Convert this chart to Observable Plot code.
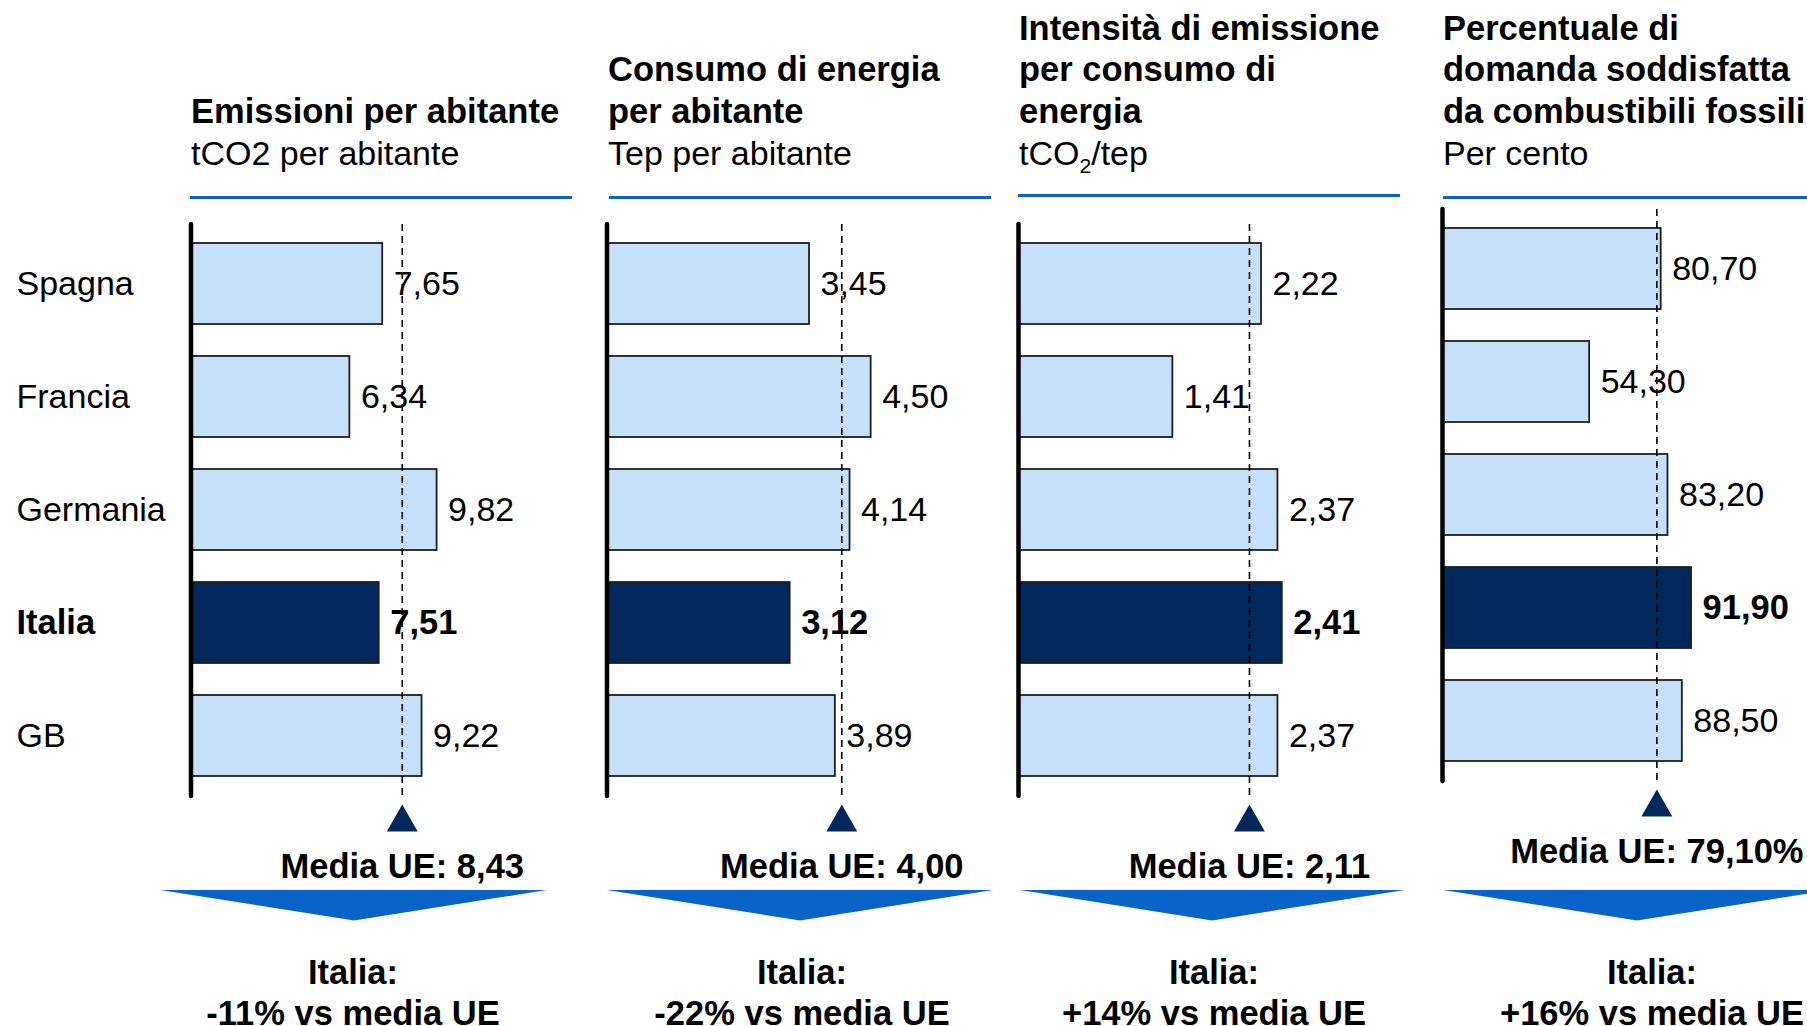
<!DOCTYPE html>
<html><head><meta charset="utf-8">
<script src="https://cdn.jsdelivr.net/npm/d3@7"></script>
<script src="https://cdn.jsdelivr.net/npm/@observablehq/plot@0.6"></script>
<style>
html,body{margin:0;padding:0;background:#fff;}
#root{position:relative;width:1807px;height:1026px;overflow:hidden;font-family:"Liberation Sans",Arial,sans-serif;color:#000;}
.line{position:absolute;white-space:nowrap;}
.rule{position:absolute;height:3px;background:#0a64c8;}
.panel{position:absolute;}
.panel svg{overflow:visible;}
#deco{position:absolute;left:0;top:0;}
</style></head><body><div id="root"></div>
<script>
// ---- data ----
const countries = ["Spagna", "Francia", "Germania", "Italia", "GB"];
const emissioni = [7.65, 6.34, 9.82, 7.51, 9.22];
const consumo = [3.45, 4.50, 4.14, 3.12, 3.89];
const intensita = [2.22, 1.41, 2.37, 2.41, 2.37];
const fossili = [80.70, 54.30, 83.20, 91.90, 88.50];
const mediaUE = [8.43, 4.00, 2.11, 79.10];
const mediaSuffix = ["", "", "", "%"];
const titles = [
  ["Emissioni per abitante"],
  ["Consumo di energia", "per abitante"],
  ["Intensità di emissione", "per consumo di", "energia"],
  ["Percentuale di", "domanda soddisfatta", "da combustibili fossili"]
];
const units = ["tCO2 per abitante", "Tep per abitante", "tCO<span style=\"font-size:0.62em;position:relative;top:0.35em\">2</span>/tep", "Per cento"];
const series = [emissioni, consumo, intensita, fossili];
const focus = "Italia";

// ---- styling / layout ----
const light = "#c6e0f9", dark = "#00285a", edge = "#1e1e1e", accent = "#0a64c8";
const font = '"Liberation Sans", Arial, sans-serif';
const BOLD = 34.5, REG = 34;
const layout = [
  {L: 0,    W: 600, T: 200, x0: 190.5, k: 25.06, dmax: 10,  titleX: 191,  ruleX: 190,  ruleW: 382, ruleY: 197.7, chev: [160, 547, 354], footX: 353},
  {L: 560,  W: 440, T: 200, x0: 606.5, k: 58.7,  dmax: 5,   titleX: 608,  ruleX: 609,  ruleW: 382, ruleY: 197.7, chev: [607, 993, 800], footX: 802},
  {L: 980,  W: 440, T: 200, x0: 1018,  k: 109.46,dmax: 3,   titleX: 1019, ruleX: 1018, ruleW: 382, ruleY: 195,   chev: [1020, 1405, 1212], footX: 1214},
  {L: 1400, W: 407, T: 185, x0: 1442,  k: 2.71,  dmax: 100, titleX: 1443, ruleX: 1443, ruleW: 380, ruleY: 197.7, chev: [1443, 1830, 1637], footX: 1652}
];
const fmt = v => v.toFixed(2).replace(".", ",");

const root = document.getElementById("root");

// place one text line by its baseline
function addLine(html, x, baseline, size, bold, center) {
  const d = document.createElement("div");
  d.className = "line";
  d.style.fontSize = size + "px";
  d.style.lineHeight = size + "px";
  d.style.fontWeight = bold ? "bold" : "normal";
  d.style.top = (baseline - 0.8465 * size) + "px";
  if (center) { d.style.left = (x - 300) + "px"; d.style.width = "600px"; d.style.textAlign = "center"; }
  else d.style.left = x + "px";
  d.innerHTML = html;
  root.appendChild(d);
}

// decoration layer (chevrons)
const deco = d3.select(root).append("svg").attr("id", "deco").attr("width", 1807).attr("height", 1026);

const titleBaselines = [40, 81.7, 123.3];
layout.forEach((c, i) => {
  // titles
  const lines = titles[i];
  lines.forEach((l, j) => addLine(l, c.titleX, titleBaselines[3 - lines.length + j], BOLD, true && true, false));
  addLine(units[i], c.titleX, 165, REG, false, false);
  // blue rule
  const r = document.createElement("div");
  r.className = "rule";
  r.style.left = c.ruleX + "px";
  r.style.width = c.ruleW + "px";
  r.style.top = (c.ruleY - 1.5) + "px";
  root.appendChild(r);

  // plot
  const data = countries.map((country, j) => ({country, value: series[i][j]}));
  const others = data.filter(d => d.country !== focus);
  const ital = data.filter(d => d.country === focus);
  const H = 690, mT = 24, mB = 94;
  const x0 = c.x0 - c.L;
  const marks = [
    Plot.barX(others, {x: "value", y: "country", fill: light, stroke: edge, strokeWidth: 1.8}),
    Plot.barX(ital, {x: "value", y: "country", fill: dark, stroke: edge, strokeWidth: 1.8}),
    Plot.ruleX([mediaUE[i]], {stroke: "#000", strokeWidth: 1.6, strokeDasharray: "7,5"}),
    Plot.ruleX([0], {stroke: "#000", strokeWidth: 4.5, strokeLinecap: "round"}),
    Plot.text(others, {x: "value", y: "country", text: d => fmt(d.value), textAnchor: "start", dx: 11, fontSize: REG, fill: "#000"}),
    Plot.text(ital, {x: "value", y: "country", text: d => fmt(d.value), textAnchor: "start", dx: 11, fontSize: BOLD, fontWeight: "bold", fill: "#000"}),
    Plot.dot([mediaUE[i]], {x: d => d, frameAnchor: "bottom", dy: 26, symbol: "triangle", r: 11.5, fill: dark, stroke: "none"}),
    Plot.text([mediaUE[i]], {x: d => d, frameAnchor: "bottom", lineAnchor: "middle", dy: 70, text: d => "Media UE: " + fmt(d) + mediaSuffix[i], fontWeight: "bold", fontSize: BOLD, textAnchor: "middle", fill: "#000"})
  ];
  if (i === 0) {
    marks.push(Plot.text(others, {y: "country", text: "country", frameAnchor: "left", dx: 16, textAnchor: "start", fontSize: REG, fill: "#000"}));
    marks.push(Plot.text(ital, {y: "country", text: "country", frameAnchor: "left", dx: 16, textAnchor: "start", fontSize: BOLD, fontWeight: "bold", fill: "#000"}));
  }
  const svg = Plot.plot({
    width: c.W, height: H,
    marginLeft: 0, marginRight: 0, marginTop: mT, marginBottom: mB,
    x: {domain: [0, c.dmax], range: [x0, x0 + c.k * c.dmax], axis: null},
    y: {domain: countries, range: [25.3, 594.4], paddingInner: 0.284, paddingOuter: 0.142, axis: null},
    style: {fontFamily: font, background: "transparent", overflow: "visible"},
    marks
  });
  const p = document.createElement("div");
  p.className = "panel";
  p.style.left = c.L + "px";
  p.style.top = c.T + "px";
  p.appendChild(svg);
  root.appendChild(p);

  // chevron
  const [a, b, tip] = c.chev;
  deco.append("polygon").attr("points", `${a},890 ${b},890 ${tip},920.5`).attr("fill", accent);

  // footer
  const it = series[i][countries.indexOf(focus)];
  const diff = Math.round((it / mediaUE[i] - 1) * 100);
  addLine(focus + ":", c.footX, 984, BOLD, true, true);
  addLine((diff > 0 ? "+" : "") + diff + "% vs media UE", c.footX, 1025.7, BOLD, true, true);
});
</script></body></html>
